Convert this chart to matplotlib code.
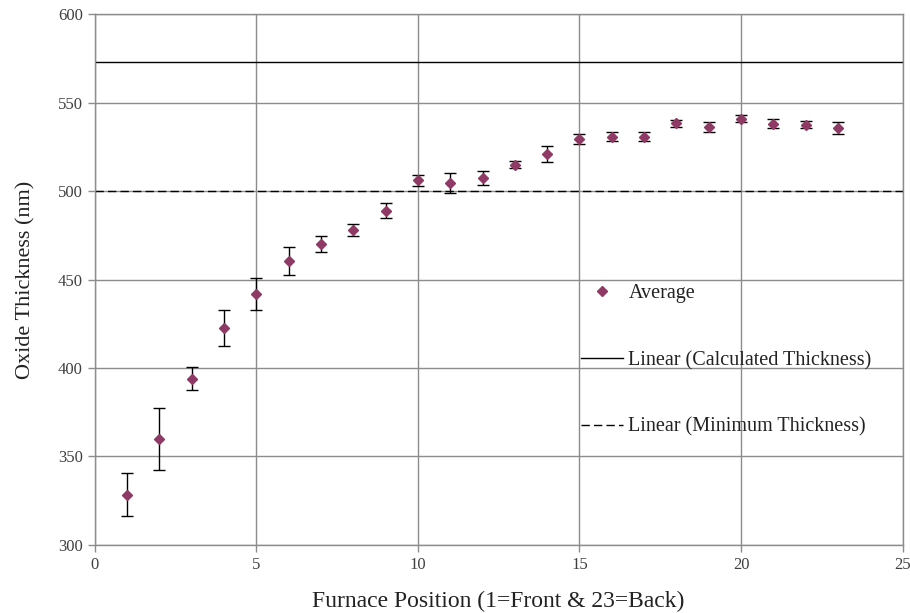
import matplotlib
matplotlib.use("Agg")
import matplotlib.pyplot as plt
from matplotlib.lines import Line2D

positions = list(range(1, 24))
average = [328.5, 360.0, 394.0, 422.5, 442.0, 460.5, 470.0, 478.0, 489.0, 506.0,
           504.5, 507.5, 514.8, 521.0, 529.2, 530.7, 530.8, 538.3, 536.3, 541.0,
           538.0, 537.4, 535.7]
err = [12.0, 17.5, 6.5, 10.0, 9.0, 8.0, 4.6, 3.2, 4.3, 3.2,
       5.6, 4.0, 2.0, 4.3, 2.8, 2.6, 2.5, 2.0, 3.0, 2.0,
       2.6, 2.0, 3.5]
calculated_thickness = 573
minimum_thickness = 500
x_ticks = [0, 5, 10, 15, 20, 25]
y_ticks = [300, 350, 400, 450, 500, 550, 600]

plt.rcParams['font.family'] = ['Liberation Serif', 'DejaVu Serif']

fig = plt.figure(figsize=(9.10, 6.13), dpi=100)
ax = fig.add_axes([0.104, 0.111, 0.888, 0.866])

ax.set_xlim(0, 25)
ax.set_ylim(300, 600)
ax.set_xticks(x_ticks)
ax.set_yticks(y_ticks)
ax.grid(True, color='#8c8c8c', linewidth=1.0)
ax.set_axisbelow(True)
for s in ax.spines.values():
    s.set_color('#8c8c8c')
    s.set_linewidth(1.0)
ax.tick_params(axis='both', colors='#8c8c8c', labelcolor='#404040', labelsize=12,
               length=5, width=1, direction='out')

ax.axhline(calculated_thickness, color='black', linewidth=1.0, zorder=2)
ax.axhline(minimum_thickness, color='black', linewidth=1.0, linestyle=(0, (6, 3)), zorder=2)

ax.errorbar(positions, average, yerr=err, fmt='none', ecolor='black',
            elinewidth=1.0, capsize=4, capthick=1.0, zorder=3)
ax.plot(positions, average, linestyle='none', marker='D', markersize=5.5,
        color='#8E3A64', zorder=4)

ax.set_xlabel('Furnace Position (1=Front & 23=Back)', fontsize=17, color='#222222', labelpad=13)
ax.set_ylabel('Oxide Thickness (nm)', fontsize=16, color='#222222', labelpad=16)

handles = [
    Line2D([], [], linestyle='none', marker='D', markersize=5, color='#8E3A64'),
    Line2D([], [], color='black', linewidth=1.0),
    Line2D([], [], color='black', linewidth=1.0, linestyle=(0, (6, 3))),
]
labels = ['Average', 'Linear (Calculated Thickness)', 'Linear (Minimum Thickness)']
leg = ax.legend(handles, labels, loc='upper left', bbox_to_anchor=(0.592, 0.506),
                frameon=False, fontsize=14.5, labelspacing=2.35, handlelength=2.1,
                handletextpad=0.25, borderaxespad=0)
for t in leg.get_texts():
    t.set_color('#222222')

fig.savefig('out.png', dpi=100)
